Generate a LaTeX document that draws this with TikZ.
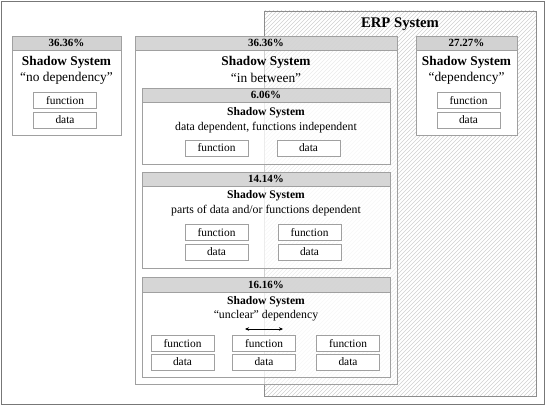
\documentclass[tikz,border=0pt]{standalone}
\usepackage{fontspec}
\setmainfont{Liberation Serif}
\usetikzlibrary{arrows.meta}
\definecolor{framegray}{HTML}{777777}
\definecolor{erpgray}{HTML}{8C8C8C}
\definecolor{boxgray}{HTML}{A0A0A0}
\definecolor{headgray}{HTML}{D2D2D2}
\definecolor{hatchgray}{HTML}{CFCFCF}
\begin{document}
\begin{tikzpicture}[x=1pt,y=-1pt,
  sysbox/.style={draw=boxgray,line width=0.9pt,fill=white,inner sep=0pt,anchor=north west},
  semibox/.style={sysbox,fill opacity=0.6},
  headbox/.style={draw=boxgray,line width=0.9pt,fill=headgray,inner sep=0pt,anchor=north west},
  fbox/.style={draw=boxgray,line width=0.8pt,fill=white,inner sep=0pt,minimum width=63pt,minimum height=16pt,font=\fontsize{11.4}{12}\selectfont},
  pct/.style={font=\bfseries\fontsize{11}{12}\selectfont,inner sep=0pt},
  bigss/.style={font=\bfseries\fontsize{13.3}{15}\selectfont,inner sep=0pt},
  bigtx/.style={font=\fontsize{13.4}{15}\selectfont,inner sep=0pt},
  smss/.style={font=\bfseries\fontsize{11.6}{13}\selectfont,inner sep=0pt},
  smtx/.style={font=\fontsize{11.8}{13}\selectfont,inner sep=0pt}
]
\useasboundingbox (0,0) rectangle (550,406);
% outer frame
\node[draw=framegray,line width=1.2pt,inner sep=0pt,anchor=north west,minimum width=543pt,minimum height=403pt] (frame) at (1,1) {};
% ERP system area with hatching
\begin{scope}
  \clip (264,11) rectangle (536,396);
  \foreach \k in {0,4,...,680} {
    \draw[hatchgray,line width=0.55pt] (264-400+\k,396) -- (264+\k,-4);
  }
\end{scope}
\node[draw=erpgray,line width=1pt,inner sep=0pt,anchor=north west,minimum width=272pt,minimum height=385pt] (erp) at (264,11) {};
\node[font=\bfseries\fontsize{14.7}{16}\selectfont,inner sep=0pt] (erpt) at (400,24) {ERP System};

% left box: no dependency
\node[sysbox,minimum width=109pt,minimum height=99pt] (L) at (12,36) {};
\node[headbox,minimum width=109pt,minimum height=14pt] (Lh) at (12,36) {};
\node[pct] (Lp) at (66.5,43) {36.36\%};
\node[bigss] (Ls) at (66.5,62) {Shadow System};
\node[bigtx] (Lt) at (66.5,78) {“no dependency”};
\node[fbox] (Lf) at (65,100.5) {function};
\node[fbox] (Ld) at (65,120) {data};

% right box: dependency
\node[sysbox,minimum width=101pt,minimum height=99pt] (R) at (416,36) {};
\node[headbox,minimum width=101pt,minimum height=14pt] (Rh) at (416,36) {};
\node[pct] (Rp) at (466.5,43) {27.27\%};
\node[bigss] (Rs) at (466.5,62) {Shadow System};
\node[bigtx] (Rt) at (466.5,78) {“dependency”};
\node[fbox] (Rf) at (468.5,100.5) {function};
\node[fbox] (Rd) at (468.5,120) {data};

% middle box: in between
\node[semibox,minimum width=262pt,minimum height=348pt] (M) at (135,36) {};
\node[headbox,fill opacity=0.9,minimum width=262pt,minimum height=14pt] (Mh) at (135,36) {};
\node[pct] (Mp) at (266,43) {36.36\%};
\node[bigss] (Ms) at (266,62) {Shadow System};
\node[bigtx] (Mt) at (266,78) {“in between”};

% inner A
\node[semibox,minimum width=248pt,minimum height=76pt] (A) at (142,88) {};
\node[headbox,fill opacity=0.9,minimum width=248pt,minimum height=14pt] (Ah) at (142,88) {};
\node[pct] (Ap) at (266,95) {6.06\%};
\node[smss] (As) at (266,113) {Shadow System};
\node[smtx] (At) at (266,128) {data dependent, functions independent};
\node[fbox] (Af) at (216.5,148) {function};
\node[fbox] (Ad) at (308.5,148) {data};

% inner B
\node[semibox,minimum width=248pt,minimum height=96pt] (B) at (142,172) {};
\node[headbox,fill opacity=0.9,minimum width=248pt,minimum height=14pt] (Bh) at (142,172) {};
\node[pct] (Bp) at (266,179) {14.14\%};
\node[smss] (Bs) at (266,196) {Shadow System};
\node[smtx] (Bt) at (266,211) {parts of data and/or functions dependent};
\node[fbox] (Bf1) at (216.5,232.5) {function};
\node[fbox] (Bd1) at (216.5,252) {data};
\node[fbox] (Bf2) at (309.5,232.5) {function};
\node[fbox] (Bd2) at (309.5,252) {data};

% inner C
\node[semibox,minimum width=248pt,minimum height=100pt] (C) at (142,277) {};
\node[headbox,fill opacity=0.9,minimum width=248pt,minimum height=15pt] (Ch) at (142,277) {};
\node[pct] (Cp) at (266,284.5) {16.16\%};
\node[smss] (Cs) at (266,302) {Shadow System};
\node[smtx] (Ct) at (266,316) {“unclear” dependency};
\coordinate (arL) at (245,329);
\coordinate (arR) at (283,329);
\draw[{Stealth[length=4pt,width=3.5pt]}-{Stealth[length=4pt,width=3.5pt]},line width=0.7pt] (arL) -- (arR);
\node[fbox] (Cf1) at (182.5,343.5) {function};
\node[fbox] (Cd1) at (182.5,362) {data};
\node[fbox] (Cf2) at (264,343.5) {function};
\node[fbox] (Cd2) at (264,362) {data};
\node[fbox] (Cf3) at (348,343.5) {function};
\node[fbox] (Cd3) at (348,362) {data};
\end{tikzpicture}
\end{document}
